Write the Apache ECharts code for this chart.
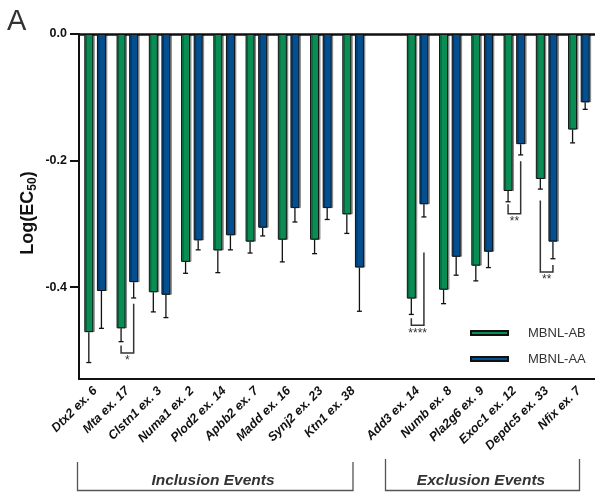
<!DOCTYPE html>
<html>
<head>
<meta charset="utf-8">
<script src="https://cdn.jsdelivr.net/npm/echarts@6/dist/echarts.min.js"></script>
<style>
  html, body { margin: 0; padding: 0; background: #fff; }
  #chart { width: 595px; height: 498px; }
</style>
</head>
<body>
<div id="chart"></div>
<script>
// Splicing events; the empty category separates inclusion from exclusion events
const categories = ['Dtx2 ex. 6', 'Mta ex. 17', 'Clstn1 ex. 3', 'Numa1 ex. 2', 'Plod2 ex. 14',
  'Apbb2 ex. 7', 'Madd ex. 16', 'Synj2 ex. 23', 'Ktn1 ex. 38', '',
  'Add3 ex. 14', 'Numb ex. 8', 'Pla2g6 ex. 9', 'Exoc1 ex. 12', 'Depdc5 ex. 33', 'Nfix ex. 7'];

// Log(EC50) means and error (SD) per event
const abMean = [-0.471, -0.465, -0.408, -0.360, -0.342, -0.328, -0.325, -0.325, -0.285, null,
  -0.418, -0.404, -0.366, -0.248, -0.229, -0.151];
const abErr = [0.048, 0.021, 0.031, 0.018, 0.035, 0.018, 0.035, 0.022, 0.030, null,
  0.025, 0.022, 0.024, 0.017, 0.016, 0.021];
const aaMean = [-0.406, -0.392, -0.412, -0.326, -0.318, -0.306, -0.275, -0.275, -0.369, null,
  -0.269, -0.352, -0.344, -0.174, -0.328, -0.108];
const aaErr = [0.059, 0.025, 0.036, 0.015, 0.023, 0.013, 0.022, 0.018, 0.069, null,
  0.020, 0.029, 0.025, 0.017, 0.027, 0.011];

const yTicks = [0, -0.2, -0.4];

// Significance brackets: leg tops for each isoform and the bracket bottom
const sigCats = [1, 10, 13, 14];
const sigAbTop = [-0.492, -0.449, -0.269, -0.263];
const sigAaTop = [-0.426, -0.345, -0.201, -0.365];
const sigBottom = [-0.504, -0.460, -0.284, -0.376];
const sigLabels = ['*', '****', '**', '**'];

const seriesNames = ['MBNL-AB', 'MBNL-AA'];
const GREEN = '#0a8d55';
const BLUE = '#044f8f';
const FONT = 'Liberation Sans, Arial, Helvetica, sans-serif';

const BAR_W = 9;
const BAR_GAP = 0.4;
const HALF_PAIR = (BAR_W + BAR_W * BAR_GAP) / 2; // bar centre offset from category centre

const chart = echarts.init(document.getElementById('chart'), null, { renderer: 'canvas' });

function barSeries(name, values, color) {
  return {
    name: name,
    type: 'bar',
    barWidth: BAR_W,
    barGap: (BAR_GAP * 100) + '%',
    data: values.map(v => (v == null ? '-' : v)),
    itemStyle: {
      color: color,
      borderColor: '#111',
      borderWidth: 1,
      shadowColor: 'rgba(0,0,0,0.35)',
      shadowOffsetX: 1.5,
      shadowBlur: 0
    },
    emphasis: { disabled: true },
    z: 2
  };
}

function errorSeries(means, errs, side) {
  const data = [];
  means.forEach((m, i) => { if (m != null) data.push([i, m, errs[i]]); });
  return {
    type: 'custom',
    data: data,
    encode: { x: 0, y: 1 },
    z: 4,
    silent: true,
    renderItem: function (params, api) {
      const i = api.value(0), m = api.value(1), e = api.value(2);
      const top = api.coord([i, m]);
      const bot = api.coord([i, m - e]);
      const x = top[0] + side * HALF_PAIR;
      const st = { stroke: '#111', lineWidth: 1.3 };
      return {
        type: 'group',
        children: [
          { type: 'line', shape: { x1: x, y1: top[1], x2: x, y2: bot[1] }, style: st },
          { type: 'line', shape: { x1: x - 2.5, y1: bot[1], x2: x + 2.5, y2: bot[1] }, style: st }
        ]
      };
    }
  };
}

const sigData = sigCats.map((c, k) => [c, sigBottom[k], sigAbTop[k], sigAaTop[k], k]);

const sigSeries = {
  type: 'custom',
  data: sigData,
  encode: { x: 0, y: 1 },
  z: 5,
  silent: true,
  renderItem: function (params, api) {
    const c = api.value(0);
    const k = api.value(4);
    const pB = api.coord([c, api.value(1)]);
    const pAb = api.coord([c, api.value(2)]);
    const pAa = api.coord([c, api.value(3)]);
    const xl = pB[0] - HALF_PAIR, xr = pB[0] + HALF_PAIR;
    return {
      type: 'group',
      children: [
        {
          type: 'polyline',
          shape: { points: [[xl, pAb[1]], [xl, pB[1]], [xr, pB[1]], [xr, pAa[1]]] },
          style: { stroke: '#333', lineWidth: 1.5, fill: null }
        },
        {
          type: 'text',
          style: {
            text: sigLabels[k], x: pB[0], y: pB[1] + 2,
            align: 'center', verticalAlign: 'top',
            font: '12px ' + FONT, fill: '#333'
          }
        }
      ]
    };
  }
};

// y-axis title "Log(EC50)" with a true subscript, built from three text pieces
const titleFont = 'bold 18px ' + FONT;
const subFont = 'bold 12px ' + FONT;
const measureCtx = document.createElement('canvas').getContext('2d');
function textWidth(str, font) { measureCtx.font = font; return measureCtx.measureText(str).width; }
const titleParts = [
  { text: 'Log(EC', font: titleFont, dy: 0 },
  { text: '50', font: subFont, dy: 5 },
  { text: ')', font: titleFont, dy: 0 }
];
const titleWidth = titleParts.reduce((s, p) => s + textWidth(p.text, p.font), 0);
let cursor = -titleWidth / 2;
const titleChildren = titleParts.map(p => {
  const el = {
    type: 'text', x: cursor, y: p.dy,
    style: { text: p.text, font: p.font, fill: '#111', align: 'left', verticalAlign: 'middle' }
  };
  cursor += textWidth(p.text, p.font);
  return el;
});

const option = {
  animation: false,
  backgroundColor: '#fff',
  grid: { left: 79, top: 34, width: 518, height: 345, containLabel: false },
  legend: {
    data: seriesNames,
    orient: 'vertical',
    left: 470,
    top: 326,
    padding: 0,
    icon: 'rect',
    itemWidth: 37,
    itemHeight: 4,
    itemGap: 12,
    textStyle: { fontFamily: FONT, fontSize: 13, color: '#333', lineHeight: 14, padding: [0, 0, 0, 15] },
    selectedMode: false
  },
  xAxis: [
    {
      type: 'category',
      data: categories,
      position: 'bottom',
      axisLine: { onZero: false, lineStyle: { color: '#111', width: 2 } },
      axisTick: { alignWithLabel: true, length: 8, lineStyle: { color: '#111', width: 2 } },
      axisLabel: {
        interval: 0,
        rotate: 45,
        margin: 10,
        fontFamily: FONT,
        fontSize: 12.5,
        fontWeight: 'bold',
        fontStyle: 'italic',
        color: '#111'
      },
      splitLine: { show: false }
    },
    {
      type: 'category',
      data: categories,
      position: 'top',
      axisLine: { onZero: false, lineStyle: { color: '#111', width: 2.5 } },
      axisTick: { show: false },
      axisLabel: { show: false },
      splitLine: { show: false }
    }
  ],
  yAxis: {
    type: 'value',
    min: -0.545,
    max: 0,
    axisLine: { show: true, lineStyle: { color: '#111', width: 2 } },
    axisTick: { show: true, length: 9, customValues: yTicks, lineStyle: { color: '#111', width: 2 } },
    axisLabel: {
      customValues: yTicks,
      margin: 12,
      fontFamily: FONT,
      fontSize: 12.5,
      fontWeight: 'bold',
      color: '#111',
      formatter: v => v.toFixed(1)
    },
    splitLine: { show: false }
  },
  series: [
    barSeries(seriesNames[0], abMean, GREEN),
    barSeries(seriesNames[1], aaMean, BLUE),
    errorSeries(abMean, abErr, -1),
    errorSeries(aaMean, aaErr, 1),
    sigSeries
  ],
  graphic: [
    {
      type: 'text', left: 7, top: 7,
      style: { text: 'A', font: '29px ' + FONT, fill: '#333' }
    },
    {
      type: 'group', x: 28, y: 213, rotation: Math.PI / 2,
      children: titleChildren
    },
    // group brackets under the category labels
    {
      type: 'polyline',
      shape: { points: [[77.5, 462], [77.5, 490.5], [353, 490.5], [353, 462]] },
      style: { stroke: '#555', lineWidth: 1.3, fill: null }
    },
    {
      type: 'text', x: 213, y: 481,
      style: { text: 'Inclusion Events', font: 'italic bold 15.5px ' + FONT, fill: '#333', align: 'center', verticalAlign: 'middle' }
    },
    {
      type: 'polyline',
      shape: { points: [[385.5, 459], [385.5, 490.5], [579.5, 490.5], [579.5, 459]] },
      style: { stroke: '#555', lineWidth: 1.3, fill: null }
    },
    {
      type: 'text', x: 481, y: 481,
      style: { text: 'Exclusion Events', font: 'italic bold 15.5px ' + FONT, fill: '#333', align: 'center', verticalAlign: 'middle' }
    }
  ]
};

chart.setOption(option);
</script>
</body>
</html>
